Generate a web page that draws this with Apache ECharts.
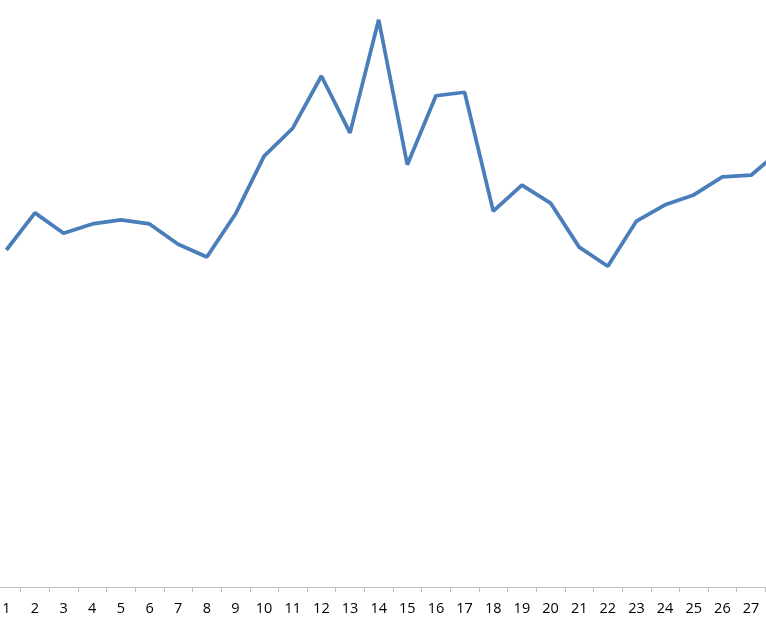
<!DOCTYPE html>
<html><head><meta charset="utf-8">
<script src="https://cdn.jsdelivr.net/npm/echarts@6/dist/echarts.min.js"></script>
<style>html,body{margin:0;padding:0;background:#fff;overflow:hidden;width:766px;height:625px;position:relative}#c{position:absolute;left:-8px;top:0;width:802px;height:625px}</style>
</head><body><div id="c"></div>
<script>
var categories = ['1','2','3','4','5','6','7','8','9','10','11','12','13','14','15','16','17','18','19','20','21','22','23','24','25','26','27','28'];
var values = [58.1,64.5,61.0,62.6,63.3,62.6,59.1,56.9,64.3,74.3,79.1,88.1,78.3,97.8,72.8,84.7,85.3,64.8,69.3,66.2,58.6,55.3,63.1,65.9,67.6,70.7,71.0,75.2];
var chart = echarts.init(document.getElementById('c'), null, {renderer:'canvas'});
chart.setOption({
  animation:false,
  grid:{left:0, right:0, top:7, bottom:38, containLabel:false},
  xAxis:{type:'category', data:categories, boundaryGap:true,
    axisLine:{lineStyle:{color:'#bfbfbf', width:1}},
    axisTick:{show:true, alignWithLabel:false, length:5, lineStyle:{color:'#bfbfbf'}},
    axisLabel:{interval:0, color:'#000', fontSize:14.5, fontFamily:'Open Sans', margin:14}
  },
  yAxis:{type:'value', min:0, max:100, show:false, splitLine:{show:false}},
  series:[{type:'line', data:values, symbol:'none', lineStyle:{color:'#4a7ebb', width:3.75}}]
});
</script></body></html>
